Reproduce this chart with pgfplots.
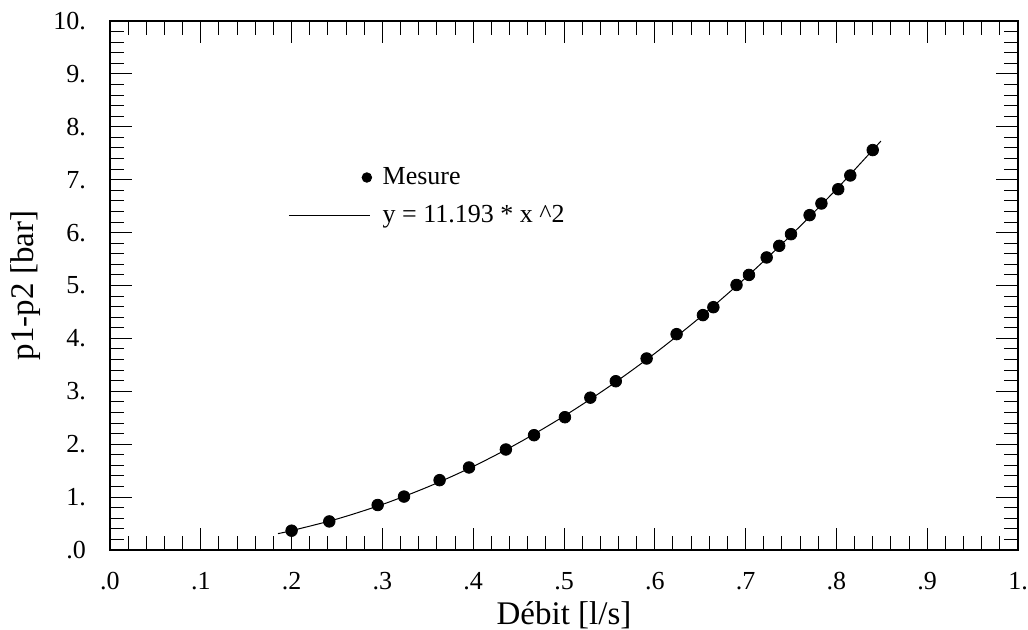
\documentclass[border=0pt]{standalone}
\usepackage{fontspec}
\setmainfont{Liberation Serif}
\usepackage{pgfplots}
\pgfplotsset{compat=1.18}

% measured points
\pgfplotstableread{
x y
0.200 0.365
0.2415 0.54
0.2948 0.85
0.3238 1.01
0.363 1.32
0.3954 1.56
0.436 1.90
0.467 2.17
0.501 2.51
0.529 2.88
0.557 3.19
0.591 3.62
0.624 4.08
0.653 4.44
0.6645 4.59
0.690 5.01
0.7037 5.20
0.7232 5.53
0.737 5.75
0.750 5.97
0.7705 6.33
0.7835 6.55
0.802 6.82
0.8153 7.08
0.840 7.56
}\mesure

% fitted curve
\pgfplotstableread{
x y
0.185 0.31
0.20 0.366
0.25 0.586
0.30 0.861
0.35 1.192
0.40 1.579
0.45 2.025
0.50 2.530
0.55 3.093
0.60 3.716
0.65 4.400
0.70 5.145
0.75 5.951
0.80 6.819
0.849 7.73
}\fit

\begin{document}
\begin{tikzpicture}
\begin{axis}[
    scale only axis,
    width=454pt, height=264.5pt,
    xmin=0, xmax=1, ymin=0, ymax=10,
    xtick={0,0.1,...,1.0},
    xticklabels={.0,.1,.2,.3,.4,.5,.6,.7,.8,.9,1.},
    ytick={0,1,...,10},
    yticklabels={.0,1.,2.,3.,4.,5.,6.,7.,8.,9.,10.},
    minor x tick num=4,
    minor y tick num=4,
    tick align=inside,
    major tick length=11pt,
    minor tick length=7pt,
    every tick/.style={black, line width=0.5pt},
    axis line style={line width=0.8pt},
    ticklabel style={font=\fontsize{13}{15}\selectfont},
    xticklabel style={yshift=-7.5pt},
    yticklabel style={xshift=-8.5pt},
    xlabel={Débit [l/s]},
    ylabel={p1-p2 [bar]},
    label style={font=\fontsize{16.5}{20}\selectfont},
    xlabel style={at={(axis description cs:0.5,-0.140)}, anchor=base},
    ylabel style={at={(axis description cs:-0.0925,0.5)}, anchor=center},
    legend style={draw=none, fill=none, inner sep=0pt,
      at={(axis cs:0.196,6.68)}, anchor=west,
      font=\fontsize{13}{16}\selectfont, row sep=5pt,
      /tikz/every odd column/.append style={column sep=3.5pt}},
    legend cell align=left,
]
\addplot[only marks, mark=*, mark size=2.9pt, black,
  legend image code/.code={\path (0pt,0pt) (40.5pt,0pt);
    \draw[black, mark=*, mark size=2.4pt] plot coordinates {(39pt,0pt)};}]
  table[x=x, y=y] {\mesure};
\addlegendentry{Mesure}
\addplot[black, line width=0.5pt, smooth, no marks,
  legend image code/.code={\draw[black, line width=0.5pt] (0pt,0pt) -- (40.5pt,0pt);}]
  table[x=x, y=y] {\fit};
\addlegendentry{y = 11.193 * x \textasciicircum 2}
\end{axis}
\pgfresetboundingbox
\useasboundingbox (-55pt,-40pt) rectangle (459pt,275pt);
\end{tikzpicture}
\end{document}
